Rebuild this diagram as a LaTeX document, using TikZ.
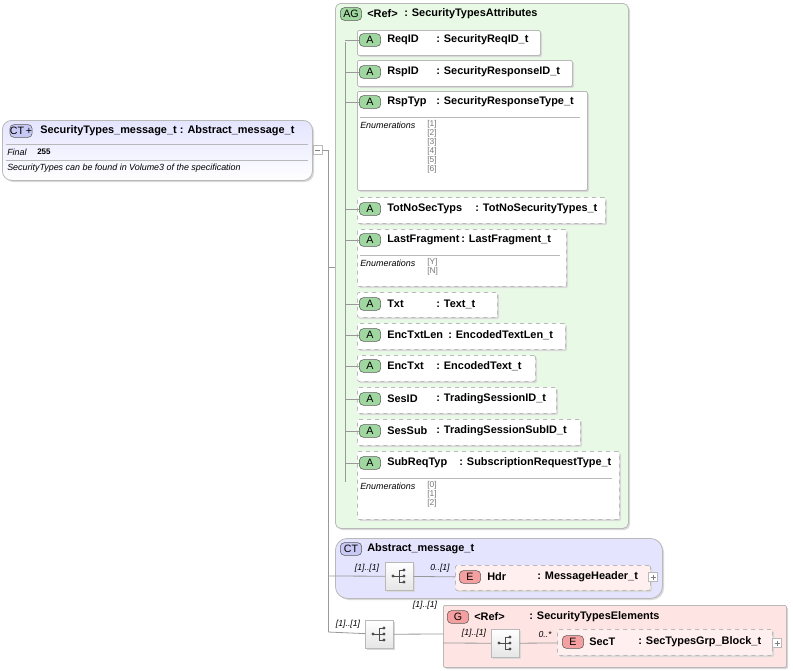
\documentclass[tikz,border=0pt]{standalone}
\usepackage{fontspec}
\setmainfont{Liberation Sans}
\definecolor{agfill}{RGB}{232,250,230}
\definecolor{ctfill}{RGB}{228,228,255}
\definecolor{gfill}{RGB}{255,228,228}
\definecolor{badgeg}{RGB}{160,215,160}
\definecolor{badger}{RGB}{245,160,160}
\definecolor{badgeb}{RGB}{200,200,245}
\definecolor{boxline}{RGB}{185,185,185}
\definecolor{enumc}{RGB}{120,120,120}
\begin{document}
\begin{tikzpicture}[x=0.75pt,y=-0.75pt,
  every node/.style={font=\fontsize{8.2}{10}\selectfont\bfseries, inner sep=0pt},
  box/.style={draw=boxline, fill=white, anchor=north west, line width=0.6pt},
  dbox/.style={box, dashed},
  lbl/.style={anchor=west},
  small/.style={font=\fontsize{6.7}{8}\selectfont\itshape, anchor=west},
  enum/.style={font=\fontsize{6.3}{6.8}\selectfont, text=enumc, anchor=north west, align=left},
  badge/.style={draw=gray!70!black, rounded corners=3pt, fill=#1, font=\fontsize{8}{9}\selectfont, minimum width=16pt, minimum height=9.5pt},
  con/.style={draw=gray!80, line width=0.6pt},
  mult/.style={font=\fontsize{6.5}{7}\selectfont\itshape, anchor=south}]
\useasboundingbox (0,0) rectangle (793,671);
\newcommand\shbox[7]{%
  \fill[gray!30, rounded corners=#7] (#2+2,#3+2) rectangle ++(#4,#5);
  \node[#6, rounded corners=#7, minimum width=#4*0.75pt, minimum height=#5*0.75pt] (#1) at (#2,#3) {};}
% main CT
\shbox{main}{2}{120}{310}{60}{box, top color=ctfill, bottom color=white}{7pt}
\node[badge=badgeb] (mainb) at (21,131) {CT\,+};
\node[lbl] (maint) at (40,131) {SecurityTypes\_message\_t : Abstract\_message\_t};
\draw[boxline] (6,144) -- (308,144) (6,160) -- (308,160);
\node[small] (fin) at (7,152) {Final};
\node[lbl, font=\fontsize{6}{7}\selectfont\bfseries] (fv) at (37,151.5) {255};
\node[small] (desc) at (7,168) {SecurityTypes can be found in Volume3 of the specification};
\node[draw=boxline, fill=white, minimum size=6.5pt] (minus) at (317.5,150) {};
\draw[gray] (315,150) -- (320,150);
\coordinate (jt) at (328,150);
\coordinate (jb) at (328,632);
\draw[con] (minus) -- (jt) -- (jb);
% AG box
\shbox{ag}{335}{3}{293}{525}{box, fill=agfill}{4pt}
\node[badge=badgeg] (agb) at (351,14) {AG};
\node[lbl] (agt) at (367,14) {<Ref>};
\node[lbl] (agt2) at (404,14) {: SecurityTypesAttributes};
\draw[con] (328,267) -- (335,267);
\coordinate (vt) at (345,42);
\coordinate (vb) at (345,482);
\draw[con] (vt) -- (vb);
\newcommand\attr[9]{%
  \shbox{#1}{357}{#2}{#3}{#4}{#5}{1pt}
  \node[badge=badgeg] (#1b) at (370,#6) {A};
  \node[lbl] (#1n) at (387,#6) {#7};
  \node[lbl] (#1t) at (#9,#6) {#8};
  \draw[con] (345,#6) -- (#1b);}
\attr{a1}{30}{183}{25}{box}{40}{ReqID}{: SecurityReqID\_t}{436}
\attr{a2}{60}{215}{26}{box}{72}{RspID}{: SecurityResponseID\_t}{436}
\attr{a3}{91}{230}{99}{box}{102}{RspTyp}{: SecurityResponseType\_t}{436}
\draw[boxline] (360,117) -- (580,117);
\node[small] (e3) at (360,125) {Enumerations};
\node[enum] (e3v) at (427,120) {{[1]}\\{[2]}\\{[3]}\\{[4]}\\{[5]}\\{[6]}};
\attr{a4}{197}{248}{26}{dbox}{209}{TotNoSecTyps}{: TotNoSecurityTypes\_t}{475}
\attr{a5}{229}{209}{57}{dbox}{240}{LastFragment}{: LastFragment\_t}{461}
\draw[boxline] (360,255) -- (560,255);
\node[small] (e5) at (360,263) {Enumerations};
\node[enum] (e5v) at (427,258) {{[Y]}\\{[N]}};
\attr{a6}{292}{140}{25}{dbox}{304}{Txt}{: Text\_t}{436}
\attr{a7}{323}{208}{26}{dbox}{335}{EncTxtLen}{: EncodedTextLen\_t}{448}
\attr{a8}{355}{178}{26}{dbox}{366}{EncTxt}{: EncodedText\_t}{436}
\attr{a9}{387}{199}{26}{dbox}{399}{SesID}{: TradingSessionID\_t}{436}
\attr{a10}{419}{223}{26}{dbox}{431}{SesSub}{: TradingSessionSubID\_t}{436}
\attr{a11}{451}{262}{68}{dbox}{463}{SubReqTyp}{: SubscriptionRequestType\_t}{459}
\draw[boxline] (360,478) -- (612,478);
\node[small] (e11) at (360,486) {Enumerations};
\node[enum] (e11v) at (427,481) {{[0]}\\{[1]}\\{[2]}};
% CT Abstract
\shbox{abs}{335}{538}{327}{60}{box, fill=ctfill}{9pt}
\node[badge=badgeb] (absb) at (351,549) {CT};
\node[lbl] (abst) at (367,549) {Abstract\_message\_t};
\newcommand\seq[3]{%
  \fill[gray!30] (#2+2,#3+2) rectangle ++(28,28);
  \node[draw=boxline, top color=white, bottom color=gray!20, minimum size=21pt, anchor=north west] (#1) at (#2,#3) {};
  \draw[black!70, line width=0.7pt] (#2+8,#3+14) -- (#2+14,#3+14) (#2+14,#3+8) -- (#2+14,#3+20) (#2+14,#3+8) -- (#2+19,#3+8) (#2+14,#3+14) -- (#2+19,#3+14) (#2+14,#3+20) -- (#2+19,#3+20);
  \fill[black!70] (#2+8,#3+14) circle (1.6) (#2+19,#3+8) circle (1.6) (#2+19,#3+14) circle (1.6) (#2+19,#3+20) circle (1.6);}
\seq{s1}{385}{562}
\draw[con] (328,576) -- (s1);
\node[mult] (m1) at (367,573) {[1]..[1]};
\shbox{hdr}{455}{565}{195}{25}{dbox, fill=gfill!60}{1pt}
\draw[con] (s1) -- (hdr);
\node[mult] (m2) at (440,573) {0..[1]};
\node[badge=badger] (hdrb) at (470,577) {E};
\node[lbl] (hdrn) at (487,577) {Hdr};
\node[lbl] (hdrt) at (537,577) {: MessageHeader\_t};
\node[draw=boxline, fill=white, minimum size=6.5pt] (p1) at (653,577) {};
\draw[gray] (650.5,577) -- (655.5,577) (653,574.5) -- (653,579.5);
% bottom sequence
\seq{s2}{365}{620}
\draw[con] (jb) -- (s2);
\node[mult] (m3) at (348,629) {[1]..[1]};
\shbox{grp}{443}{605}{343}{62}{box, fill=gfill}{1pt}
\draw[con] (s2) -- (443,634);
\node[mult] (m4) at (425,610) {[1]..[1]};
\node[badge=badger] (gb) at (458,617) {G};
\node[lbl] (gt) at (474,617) {<Ref>};
\node[lbl] (gt2) at (529,617) {: SecurityTypesElements};
\seq{s3}{491}{629}
\draw[con] (443,643) -- (s3);
\node[mult] (m5) at (474,638) {[1]..[1]};
\shbox{sect}{557}{629}{215}{26}{dbox, fill=gfill!60}{1pt}
\draw[con] (s3) -- (sect);
\node[mult] (m6) at (545,638) {0..*};
\node[badge=badger] (sb) at (573,642) {E};
\node[lbl] (sn) at (589,642) {SecT};
\node[lbl] (st) at (638,642) {: SecTypesGrp\_Block\_t};
\node[draw=boxline, fill=white, minimum size=6.5pt] (p2) at (777,643) {};
\draw[gray] (774.5,643) -- (779.5,643) (777,640.5) -- (777,645.5);
\end{tikzpicture}
\end{document}
